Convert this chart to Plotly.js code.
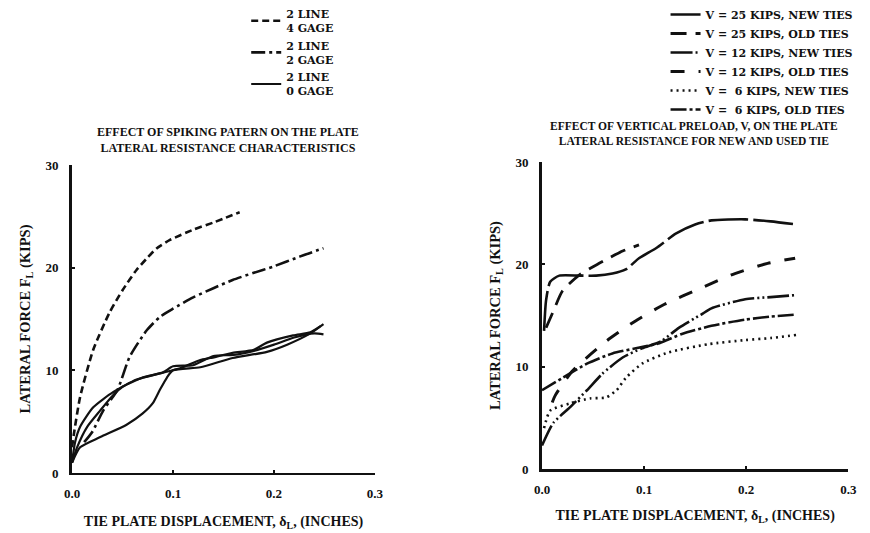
<!DOCTYPE html>
<html>
<head>
<meta charset="utf-8">
<script src="https://cdn.plot.ly/plotly-3.0.1.min.js"></script>
<style>html,body{margin:0;padding:0;background:#fff;}#chart{width:870px;height:533px;}</style>
</head>
<body>
<div id="chart"></div>
<script>
// ---------- Left panel: effect of spiking pattern ----------
const leftX_4gage = [0.0, 0.002, 0.008, 0.021, 0.037, 0.05, 0.064, 0.075, 0.084, 0.097, 0.12, 0.14, 0.166];
const leftY_4gage = [2.5, 3.9, 7.4, 12.0, 15.6, 17.8, 19.8, 21.0, 21.9, 22.7, 23.7, 24.4, 25.4];

const leftX_2gage = [0.012, 0.02, 0.031, 0.045, 0.057, 0.074, 0.087, 0.1, 0.12, 0.14, 0.159, 0.18, 0.199, 0.226, 0.249];
const leftY_2gage = [3.0, 4.0, 6.1, 8.1, 11.3, 13.9, 15.2, 16.0, 17.1, 18.0, 18.8, 19.5, 20.1, 21.1, 21.9];

const leftX_0gageA = [0, 0.003, 0.008, 0.021, 0.041, 0.064, 0.087, 0.107, 0.127, 0.137, 0.159, 0.18, 0.193, 0.219, 0.236, 0.246];
const leftY_0gageA = [1.0, 3.0, 4.5, 6.4, 7.9, 9.1, 9.7, 10.2, 11.0, 11.2, 11.7, 12.0, 12.7, 13.4, 13.7, 14.3];
const leftX_0gageB = [0, 0.005, 0.015, 0.028, 0.04, 0.05, 0.07, 0.09, 0.1, 0.12, 0.14, 0.16, 0.18, 0.2, 0.22, 0.24, 0.249];
const leftY_0gageB = [1.0, 2.5, 4.5, 6.1, 7.5, 8.4, 9.3, 9.8, 10.4, 10.5, 11.4, 11.5, 11.9, 12.5, 13.2, 13.6, 13.5];
const leftX_0gageC = [0, 0.008, 0.028, 0.054, 0.07, 0.08, 0.087, 0.094, 0.1, 0.127, 0.159, 0.193, 0.213, 0.236, 0.249];
const leftY_0gageC = [1.0, 2.5, 3.5, 4.7, 5.8, 6.8, 8.1, 9.3, 10.0, 10.3, 11.2, 11.8, 12.5, 13.6, 14.5];

const leftLabels = ['2 LINE<br>4 GAGE', '2 LINE<br>2 GAGE', '2 LINE<br>0 GAGE'];

// ---------- Right panel: effect of vertical preload ----------
const rightX_v25new = [0.002, 0.004, 0.008, 0.017, 0.037, 0.053, 0.069, 0.082, 0.095, 0.112, 0.131, 0.15, 0.166, 0.199, 0.224, 0.249];
const rightY_v25new = [13.5, 16.5, 18.3, 18.9, 18.9, 18.9, 19.1, 19.5, 20.6, 21.6, 23.0, 23.9, 24.3, 24.4, 24.2, 23.9];
const rightX_v25old = [0.004, 0.011, 0.02, 0.037, 0.056, 0.079, 0.095];
const rightY_v25old = [13.8, 15.4, 17.4, 19.0, 20.1, 21.3, 21.9];
const rightX_v12new = [0.0, 0.011, 0.027, 0.044, 0.059, 0.079, 0.098, 0.117, 0.134, 0.156, 0.166, 0.199, 0.224, 0.249];
const rightY_v12new = [2.3, 4.5, 6.0, 7.7, 9.3, 10.9, 11.8, 12.5, 13.8, 15.1, 15.7, 16.6, 16.8, 17.0];
const rightX_v12old = [0.01, 0.013, 0.03, 0.063, 0.092, 0.12, 0.156, 0.189, 0.221, 0.248];
const rightY_v12old = [6.5, 7.2, 9.6, 12.5, 14.5, 16.1, 17.7, 19.1, 20.1, 20.6];
const rightX_v6new = [0.002, 0.008, 0.027, 0.047, 0.063, 0.073, 0.082, 0.098, 0.124, 0.163, 0.199, 0.224, 0.249];
const rightY_v6new = [4.0, 5.7, 6.4, 6.9, 7.0, 7.7, 8.9, 10.3, 11.4, 12.2, 12.6, 12.8, 13.1];
const rightX_v6old = [0.0, 0.02, 0.044, 0.069, 0.092, 0.115, 0.137, 0.166, 0.199, 0.224, 0.249];
const rightY_v6old = [7.7, 8.9, 10.3, 11.3, 11.8, 12.3, 13.2, 14.0, 14.6, 14.9, 15.1];

const rightLabels = ['V = 25 KIPS, NEW TIES', 'V = 25 KIPS, OLD TIES', 'V = 12 KIPS, NEW TIES',
                     'V = 12 KIPS, OLD TIES', 'V =  6 KIPS, NEW TIES', 'V =  6 KIPS, OLD TIES'];

const xTickVals = [0, 0.1, 0.2, 0.3];
const xTickText = ['0.0', '0.1', '0.2', '0.3'];
const yTickVals = [0, 10, 20, 30];

const INK = '#111';
const FONT = 'Liberation Serif, Times New Roman, serif';
const LEGFONT = 'DejaVu Serif, serif';

function line(x, y, dash, width, name, xa, ya, legend, show) {
  return {x: x, y: y, type: 'scatter', mode: 'lines', name: name,
          xaxis: xa, yaxis: ya, legend: legend, showlegend: show,
          line: {color: INK, width: width, dash: dash, shape: 'spline', smoothing: 0.6}};
}

const traces = [
  line(leftX_4gage, leftY_4gage, '7px,4px', 2.6, leftLabels[0], 'x', 'y', 'legend', true),
  line(leftX_2gage, leftY_2gage, '14px,4px,3px,4px', 2.6, leftLabels[1], 'x', 'y', 'legend', true),
  line(leftX_0gageA, leftY_0gageA, 'solid', 2.2, leftLabels[2], 'x', 'y', 'legend', true),
  line(leftX_0gageB, leftY_0gageB, 'solid', 2.2, leftLabels[2], 'x', 'y', 'legend', false),
  line(leftX_0gageC, leftY_0gageC, 'solid', 2.2, leftLabels[2], 'x', 'y', 'legend', false),
  line(rightX_v25new, rightY_v25new, '40px,5px', 2.6, rightLabels[0], 'x2', 'y2', 'legend2', true),
  line(rightX_v25old, rightY_v25old, '16px,9px', 2.8, rightLabels[1], 'x2', 'y2', 'legend2', true),
  line(rightX_v12new, rightY_v12new, '22px,3px,2px,3px,2px,3px', 2.6, rightLabels[2], 'x2', 'y2', 'legend2', true),
  line(rightX_v12old, rightY_v12old, '14px,14px', 3.0, rightLabels[3], 'x2', 'y2', 'legend2', true),
  line(rightX_v6new, rightY_v6new, '2px,4px', 2.6, rightLabels[4], 'x2', 'y2', 'legend2', true),
  line(rightX_v6old, rightY_v6old, '16px,3px,3px,3px', 2.6, rightLabels[5], 'x2', 'y2', 'legend2', true)
];

function xAxis(domain, anchor, standoff) {
  return {domain: domain, anchor: anchor, range: [0, 0.3], tickvals: xTickVals, ticktext: xTickText,
          showline: true, linecolor: INK, linewidth: 2.5, showgrid: false, zeroline: false,
          ticks: 'inside', ticklen: 3, tickcolor: INK, tickwidth: 2, ticklabelstandoff: 7,
          tickfont: {family: FONT, size: 13, color: INK, weight: 'bold'},
          title: {text: 'TIE PLATE DISPLACEMENT, δ<sub>L</sub>, (INCHES)', standoff: standoff,
                  font: {family: FONT, size: 14, color: INK, weight: 'bold'}},
          automargin: false, fixedrange: true};
}
function yAxis(domain, anchor, standoff) {
  return {domain: domain, anchor: anchor, range: [0, 30], tickvals: yTickVals,
          showline: true, linecolor: INK, linewidth: 3, showgrid: false, zeroline: false,
          ticks: 'inside', ticklen: 3, tickcolor: INK, tickwidth: 2, ticklabelstandoff: 8,
          tickfont: {family: FONT, size: 13, color: INK, weight: 'bold'},
          title: {text: 'LATERAL FORCE F<sub>L</sub> (KIPS)', standoff: standoff,
                  font: {family: FONT, size: 14.5, color: INK, weight: 'bold'}},
          automargin: false, fixedrange: true};
}

const layout = {
  width: 870, height: 533,
  margin: {l: 0, r: 0, t: 0, b: 0},
  paper_bgcolor: '#fff', plot_bgcolor: '#fff',
  font: {family: FONT, color: INK},
  xaxis: xAxis([0.0828, 0.431], 'y', 16),
  yaxis: yAxis([0.1126, 0.6904], 'x', 12),
  xaxis2: xAxis([0.623, 0.975], 'y2', 14),
  yaxis2: yAxis([0.120, 0.696], 'x2', 12),
  legend: {x: 0.283, y: 1.0, xanchor: 'left', yanchor: 'top', bgcolor: 'rgba(0,0,0,0)',
           font: {family: LEGFONT, size: 11, color: INK, weight: 'bold'}, tracegroupgap: 0, itemwidth: 30},
  legend2: {x: 0.765, y: 1.0, xanchor: 'left', yanchor: 'top', bgcolor: 'rgba(0,0,0,0)',
            font: {family: LEGFONT, size: 11, color: INK, weight: 'bold'}, tracegroupgap: 0, itemwidth: 30},
  annotations: [
    {text: 'EFFECT OF SPIKING PATERN ON THE PLATE<br>LATERAL RESISTANCE CHARACTERISTICS',
     xref: 'paper', yref: 'paper', x: 0.262, y: 0.737, xanchor: 'center', yanchor: 'middle',
     showarrow: false, font: {family: FONT, size: 12, color: INK, weight: 'bold'}},
    {text: 'EFFECT OF VERTICAL PRELOAD, V, ON THE PLATE<br>LATERAL RESISTANCE FOR NEW AND USED TIE',
     xref: 'paper', yref: 'paper', x: 0.798, y: 0.749, xanchor: 'center', yanchor: 'middle',
     showarrow: false, font: {family: FONT, size: 11.5, color: INK, weight: 'bold'}}
  ]
};

Plotly.newPlot('chart', traces, layout, {displayModeBar: false, staticPlot: true});
</script>
</body>
</html>
